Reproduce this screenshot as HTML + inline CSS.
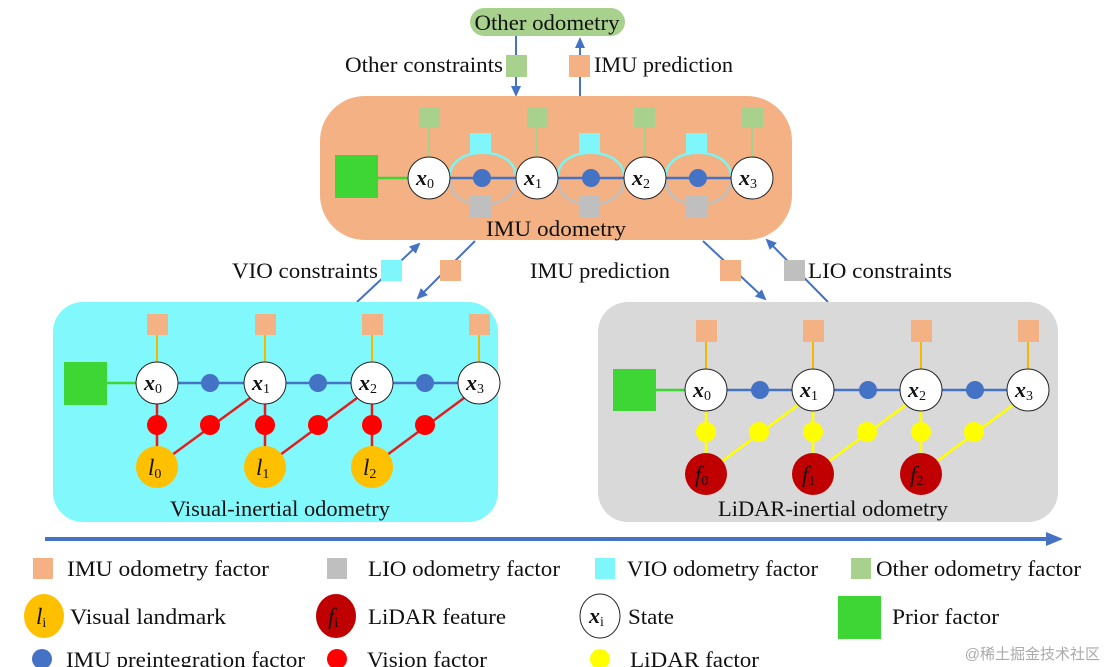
<!DOCTYPE html>
<html><head><meta charset="utf-8"><style>
html,body{margin:0;padding:0;background:#fff;}
svg{display:block;}
text{font-family:"Liberation Serif","Noto Serif CJK SC",serif;font-size:22px;fill:#111;}
.m{font-weight:bold;font-style:italic;font-size:22px;}
.s{font-size:14px;font-style:normal;font-weight:normal;}
.i{font-style:italic;font-size:23px;}
</style></head><body>
<svg width="1105" height="667" viewBox="0 0 1105 667" xmlns="http://www.w3.org/2000/svg">
<defs>
<marker id="ah" markerWidth="12" markerHeight="12" refX="9" refY="6" orient="auto" markerUnits="userSpaceOnUse"><path d="M0,1 L11,6 L0,11 z" fill="#4472c4"/></marker>
</defs>
<!-- top -->
<rect x="470" y="8" width="155" height="28" rx="14" fill="#a9d18e"/>
<text x="547" y="30" text-anchor="middle" textLength="145" lengthAdjust="spacingAndGlyphs">Other odometry</text>
<line x1="516" y1="36" x2="516" y2="95" stroke="#4472c4" stroke-width="2" marker-end="url(#ah)"/>
<line x1="580" y1="96" x2="580" y2="39" stroke="#4472c4" stroke-width="2" marker-end="url(#ah)"/>
<rect x="506" y="55" width="21" height="22" fill="#a9d18e"/>
<rect x="569" y="55" width="21" height="22" fill="#f4b183"/>
<text x="503" y="72" text-anchor="end" textLength="158" lengthAdjust="spacingAndGlyphs">Other  constraints</text>
<text x="594" y="72" textLength="139" lengthAdjust="spacingAndGlyphs">IMU prediction</text>
<!-- IMU box -->
<rect x="320" y="96" width="472" height="144" rx="45" fill="#f4b183"/>
<rect x="335" y="155" width="43" height="43" fill="#3ed634"/>
<line x1="378" y1="178" x2="410" y2="178" stroke="#3ed634" stroke-width="2.5"/>
<g stroke="#a9d18e" stroke-width="2">
<line x1="429" y1="128" x2="429" y2="157"/><line x1="537" y1="128" x2="537" y2="157"/><line x1="645" y1="128" x2="645" y2="157"/><line x1="752" y1="128" x2="752" y2="157"/></g>
<g fill="#a9d18e"><rect x="419" y="107" width="21" height="21"/><rect x="527" y="107" width="21" height="21"/><rect x="634" y="107" width="21" height="21"/><rect x="742" y="107" width="21" height="21"/></g>
<g fill="none" stroke-width="2.5">
<path d="M450,176 C450,145 515,145 516,176" stroke="#7ff3f0"/><path d="M558,176 C558,145 623,145 624,176" stroke="#7ff3f0"/><path d="M666,176 C666,145 730,145 731,176" stroke="#7ff3f0"/>
<path d="M450,180 C450,213 515,213 516,180" stroke="#bfbfbf"/><path d="M558,180 C558,213 623,213 624,180" stroke="#bfbfbf"/><path d="M666,180 C666,213 730,213 731,180" stroke="#bfbfbf"/>
</g>
<line x1="429" y1="178" x2="752" y2="178" stroke="#4472c4" stroke-width="2.5"/>
<g fill="#7ff7fa"><rect x="470" y="133" width="21" height="21"/><rect x="579" y="133" width="21" height="21"/><rect x="686" y="133" width="21" height="21"/></g>
<g fill="#bfbfbf"><rect x="470" y="196" width="21" height="21"/><rect x="579" y="196" width="21" height="21"/><rect x="686" y="196" width="21" height="21"/></g>
<g fill="#4472c4"><circle cx="482" cy="178" r="9"/><circle cx="591" cy="178" r="9"/><circle cx="698" cy="178" r="9"/></g>
<g fill="#fff" stroke="#222" stroke-width="1"><circle cx="429" cy="178" r="21"/><circle cx="537" cy="178" r="21"/><circle cx="645" cy="178" r="21"/><circle cx="752" cy="178" r="21"/></g>
<text class="m" x="416" y="185">x<tspan class="s" dy="3">0</tspan></text>
<text class="m" x="524" y="185">x<tspan class="s" dy="3">1</tspan></text>
<text class="m" x="632" y="185">x<tspan class="s" dy="3">2</tspan></text>
<text class="m" x="739" y="185">x<tspan class="s" dy="3">3</tspan></text>
<text x="556" y="236" text-anchor="middle" textLength="140" lengthAdjust="spacingAndGlyphs">IMU  odometry</text>
<!-- connectors -->
<line x1="357" y1="302" x2="419" y2="244" stroke="#4472c4" stroke-width="2" marker-end="url(#ah)"/>
<line x1="475" y1="241" x2="418" y2="298" stroke="#4472c4" stroke-width="2" marker-end="url(#ah)"/>
<line x1="703" y1="241" x2="765" y2="299" stroke="#4472c4" stroke-width="2" marker-end="url(#ah)"/>
<line x1="828" y1="302" x2="767" y2="240" stroke="#4472c4" stroke-width="2" marker-end="url(#ah)"/>
<rect x="381" y="260" width="21" height="21" fill="#7ff7fa"/>
<rect x="440" y="260" width="21" height="21" fill="#f4b183"/>
<rect x="720" y="260" width="21" height="21" fill="#f4b183"/>
<rect x="784" y="260" width="21" height="21" fill="#bfbfbf"/>
<text x="378" y="278" text-anchor="end" textLength="146" lengthAdjust="spacingAndGlyphs">VIO  constraints</text>
<text x="600" y="278" text-anchor="middle" textLength="140" lengthAdjust="spacingAndGlyphs">IMU prediction</text>
<text x="808" y="278" textLength="144" lengthAdjust="spacingAndGlyphs">LIO  constraints</text>
<!-- VIO box -->
<rect x="53" y="302" width="445" height="220" rx="30" fill="#80f8fc"/>
<rect x="64" y="362" width="43" height="43" fill="#3ed634"/>
<line x1="107" y1="383" x2="140" y2="383" stroke="#3ed634" stroke-width="2.5"/>
<g stroke="#f5b800" stroke-width="2"><line x1="157" y1="335" x2="157" y2="362"/><line x1="265" y1="335" x2="265" y2="362"/><line x1="372" y1="335" x2="372" y2="362"/><line x1="479" y1="335" x2="479" y2="362"/></g>
<g fill="#f4b183"><rect x="147" y="314" width="21" height="21"/><rect x="255" y="314" width="21" height="21"/><rect x="362" y="314" width="21" height="21"/><rect x="469" y="314" width="21" height="21"/></g>
<line x1="157" y1="383" x2="479" y2="383" stroke="#4472c4" stroke-width="2.5"/>
<g stroke="#e02020" stroke-width="2.5"><line x1="157" y1="383" x2="157" y2="467"/><line x1="265" y1="383" x2="265" y2="467"/><line x1="372" y1="383" x2="372" y2="467"/>
<line x1="172" y1="455" x2="250" y2="398"/><line x1="280" y1="455" x2="357" y2="398"/><line x1="387" y1="455" x2="464" y2="398"/></g>
<g fill="#4472c4"><circle cx="210" cy="383" r="9"/><circle cx="318" cy="383" r="9"/><circle cx="425" cy="383" r="9"/></g>
<g fill="#ff0000"><circle cx="157" cy="425" r="10"/><circle cx="265" cy="425" r="10"/><circle cx="372" cy="425" r="10"/><circle cx="210" cy="425" r="10"/><circle cx="318" cy="425" r="10"/><circle cx="425" cy="425" r="10"/></g>
<g fill="#fff" stroke="#222" stroke-width="1"><circle cx="157" cy="383" r="21"/><circle cx="265" cy="383" r="21"/><circle cx="372" cy="383" r="21"/><circle cx="479" cy="383" r="21"/></g>
<g fill="#ffc000"><circle cx="157" cy="467" r="21"/><circle cx="265" cy="467" r="21"/><circle cx="372" cy="467" r="21"/></g>
<text class="m" x="144" y="390">x<tspan class="s" dy="3">0</tspan></text>
<text class="m" x="252" y="390">x<tspan class="s" dy="3">1</tspan></text>
<text class="m" x="359" y="390">x<tspan class="s" dy="3">2</tspan></text>
<text class="m" x="466" y="390">x<tspan class="s" dy="3">3</tspan></text>
<text class="i" x="148" y="475">l<tspan class="s" dy="3">0</tspan></text>
<text class="i" x="256" y="475">l<tspan class="s" dy="3">1</tspan></text>
<text class="i" x="363" y="475">l<tspan class="s" dy="3">2</tspan></text>
<text x="280" y="516" text-anchor="middle" textLength="220" lengthAdjust="spacingAndGlyphs">Visual-inertial odometry</text>
<!-- LIO box -->
<rect x="598" y="302" width="460" height="220" rx="30" fill="#d9d9d9"/>
<rect x="613" y="369" width="43" height="42" fill="#3ed634"/>
<line x1="656" y1="390" x2="690" y2="390" stroke="#3ed634" stroke-width="2.5"/>
<g stroke="#f5b800" stroke-width="2"><line x1="706" y1="342" x2="706" y2="369"/><line x1="813" y1="342" x2="813" y2="369"/><line x1="921" y1="342" x2="921" y2="369"/><line x1="1028" y1="342" x2="1028" y2="369"/></g>
<g fill="#f4b183"><rect x="696" y="320" width="21" height="22"/><rect x="803" y="320" width="21" height="22"/><rect x="911" y="320" width="21" height="22"/><rect x="1018" y="320" width="21" height="22"/></g>
<line x1="706" y1="390" x2="1028" y2="390" stroke="#4472c4" stroke-width="2.5"/>
<g stroke="#ffff00" stroke-width="2.5"><line x1="706" y1="390" x2="706" y2="474"/><line x1="813" y1="390" x2="813" y2="474"/><line x1="921" y1="390" x2="921" y2="474"/>
<line x1="721" y1="462" x2="798" y2="405"/><line x1="828" y1="462" x2="906" y2="405"/><line x1="936" y1="462" x2="1013" y2="405"/></g>
<g fill="#4472c4"><circle cx="760" cy="390" r="9"/><circle cx="868" cy="390" r="9"/><circle cx="975" cy="390" r="9"/></g>
<g fill="#ffff00"><circle cx="706" cy="432" r="10"/><circle cx="813" cy="432" r="10"/><circle cx="921" cy="432" r="10"/><circle cx="759" cy="432" r="10"/><circle cx="867" cy="432" r="10"/><circle cx="974" cy="432" r="10"/></g>
<g fill="#fff" stroke="#222" stroke-width="1"><circle cx="706" cy="390" r="21"/><circle cx="813" cy="390" r="21"/><circle cx="921" cy="390" r="21"/><circle cx="1028" cy="390" r="21"/></g>
<g fill="#c00000"><circle cx="706" cy="474" r="21"/><circle cx="813" cy="474" r="21"/><circle cx="921" cy="474" r="21"/></g>
<text class="m" x="693" y="397">x<tspan class="s" dy="3">0</tspan></text>
<text class="m" x="800" y="397">x<tspan class="s" dy="3">1</tspan></text>
<text class="m" x="908" y="397">x<tspan class="s" dy="3">2</tspan></text>
<text class="m" x="1015" y="397">x<tspan class="s" dy="3">3</tspan></text>
<text class="i" x="695" y="482">f<tspan class="s" dy="3">0</tspan></text>
<text class="i" x="802" y="482">f<tspan class="s" dy="3">1</tspan></text>
<text class="i" x="910" y="482">f<tspan class="s" dy="3">2</tspan></text>
<text x="833" y="516" text-anchor="middle" textLength="230" lengthAdjust="spacingAndGlyphs">LiDAR-inertial odometry</text>
<!-- timeline -->
<line x1="45" y1="539" x2="1050" y2="539" stroke="#4472c4" stroke-width="4"/>
<path d="M1046,532 L1063,539 L1046,546 z" fill="#4472c4"/>
<!-- legend -->
<rect x="33" y="558" width="20" height="21" fill="#f4b183"/>
<rect x="327" y="558" width="20" height="21" fill="#bfbfbf"/>
<rect x="595" y="558" width="20" height="21" fill="#7ff7fa"/>
<rect x="851" y="558" width="20" height="21" fill="#a9d18e"/>
<text x="67" y="576" textLength="202" lengthAdjust="spacingAndGlyphs">IMU  odometry  factor</text>
<text x="368" y="576" textLength="192" lengthAdjust="spacingAndGlyphs">LIO odometry factor</text>
<text x="627" y="576" textLength="191" lengthAdjust="spacingAndGlyphs">VIO odometry factor</text>
<text x="876" y="576" textLength="205" lengthAdjust="spacingAndGlyphs">Other odometry factor</text>
<ellipse cx="44" cy="616" rx="20" ry="22" fill="#ffc000"/>
<text class="i" x="36" y="624">l<tspan class="s" dy="3">i</tspan></text>
<text x="70" y="624" textLength="156" lengthAdjust="spacingAndGlyphs">Visual  landmark</text>
<ellipse cx="336" cy="616" rx="20" ry="22" fill="#c00000"/>
<text class="i" x="328" y="624">f<tspan class="s" dy="3">i</tspan></text>
<text x="368" y="624" textLength="138" lengthAdjust="spacingAndGlyphs">LiDAR  feature</text>
<ellipse cx="600" cy="616" rx="20" ry="22" fill="#fff" stroke="#222"/>
<text class="m" x="589" y="623">x<tspan class="s" dy="3">i</tspan></text>
<text x="628" y="624" textLength="46" lengthAdjust="spacingAndGlyphs">State</text>
<rect x="838" y="596" width="43" height="43" fill="#3ed634"/>
<text x="892" y="624" textLength="107" lengthAdjust="spacingAndGlyphs">Prior factor</text>
<circle cx="42" cy="659" r="10" fill="#4472c4"/>
<circle cx="337" cy="659" r="10" fill="#ff0000"/>
<circle cx="600" cy="659" r="10" fill="#ffff00"/>
<text x="66" y="667" textLength="239" lengthAdjust="spacingAndGlyphs">IMU preintegration factor</text>
<text x="367" y="667" textLength="120" lengthAdjust="spacingAndGlyphs">Vision factor</text>
<text x="630" y="667" textLength="129" lengthAdjust="spacingAndGlyphs">LiDAR factor</text>
<text x="1100" y="659" text-anchor="end" style="font-family:'Liberation Sans','Noto Sans CJK SC',sans-serif;font-size:15px;fill:#aaa">@稀土掘金技术社区</text>
</svg>
</body></html>
